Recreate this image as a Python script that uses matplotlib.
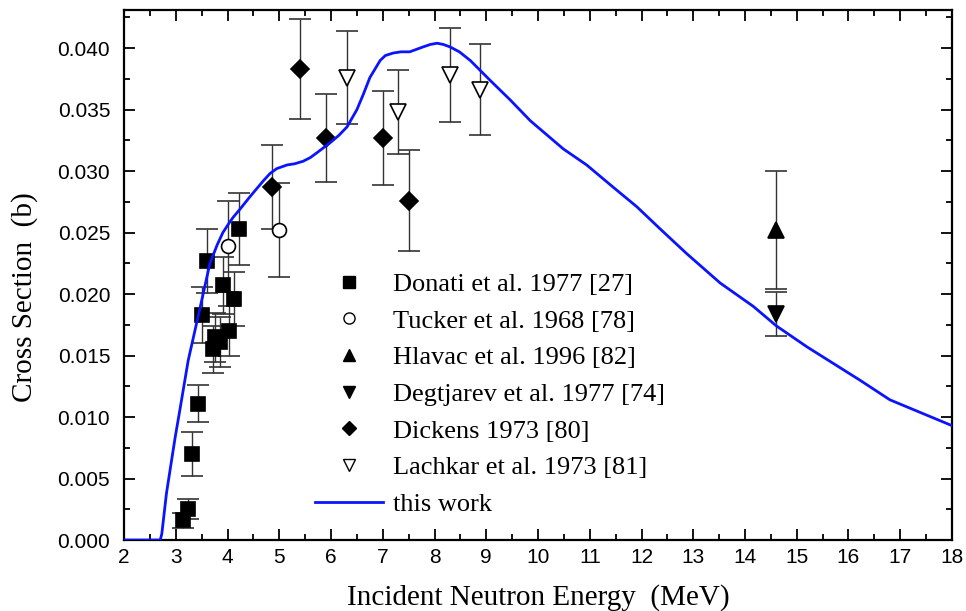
import matplotlib
matplotlib.use("Agg")
import matplotlib.pyplot as plt
from matplotlib.lines import Line2D
from matplotlib.ticker import MultipleLocator, FormatStrFormatter

# measured data
donati_x = [3.13, 3.24, 3.32, 3.42, 3.51, 3.61, 3.72, 3.76, 3.85, 3.92, 4.02, 4.13, 4.23]
donati_y = [0.0016, 0.0025, 0.0070, 0.0111, 0.0183, 0.0227, 0.0155, 0.0165, 0.0161, 0.0207, 0.0170, 0.0196, 0.0253]
donati_err = [0.0006, 0.0008, 0.0018, 0.0015, 0.0023, 0.0026, 0.0019, 0.0020, 0.0020, 0.0023, 0.0020, 0.0022, 0.0029]

tucker_x = [4.0, 5.0]
tucker_y = [0.0239, 0.0252]
tucker_err = [0.0037, 0.0038]

hlavac_x = [14.6]
hlavac_y = [0.0252]
hlavac_err = [0.0048]

degtjarev_x = [14.6]
degtjarev_y = [0.0184]
degtjarev_err = [0.0018]

dickens_x = [4.85, 5.40, 5.90, 7.00, 7.51]
dickens_y = [0.0287, 0.0383, 0.0327, 0.0327, 0.0276]
dickens_err = [0.0034, 0.0041, 0.0036, 0.0038, 0.0041]

lachkar_x = [6.30, 7.30, 8.30, 8.87]
lachkar_y = [0.0376, 0.0348, 0.0378, 0.0366]
lachkar_err = [0.0038, 0.0034, 0.0038, 0.0037]

# calculation ("this work")
calc_x = [2.0, 2.70, 2.73, 2.76, 2.82, 2.89, 2.99, 3.08, 3.24, 3.47, 3.66, 3.80, 3.91,
          4.05, 4.12, 4.24, 4.43, 4.69, 4.82, 4.95, 5.15, 5.30, 5.46, 5.60, 5.73,
          5.98, 6.15, 6.31, 6.50, 6.62, 6.75, 6.95, 7.05, 7.20, 7.35, 7.52, 7.65,
          7.78, 7.92, 8.05, 8.17, 8.30, 8.48, 8.69, 9.07, 9.46, 9.85, 10.49, 10.94,
          11.45, 11.91, 12.36, 12.87, 13.52, 14.16, 14.61, 15.20, 16.22, 16.80, 18.0]
calc_y = [0.0, 0.0, 0.0005, 0.0016, 0.0038, 0.0057, 0.0084, 0.0106, 0.0146, 0.0189,
          0.0225, 0.0240, 0.0250, 0.0259, 0.0263, 0.0269, 0.0279, 0.0292, 0.0298,
          0.0302, 0.0305, 0.0306, 0.0308, 0.0311, 0.0315, 0.0323, 0.0329, 0.0336,
          0.0350, 0.0362, 0.0376, 0.0390, 0.0394, 0.0396, 0.0397, 0.0397, 0.0399,
          0.0401, 0.0403, 0.0404, 0.0403, 0.0401, 0.0397, 0.0390, 0.0374, 0.0358,
          0.0341, 0.0318, 0.0305, 0.0287, 0.0271, 0.0253, 0.0233, 0.0209, 0.0190,
          0.0174, 0.0157, 0.0130, 0.0114, 0.0093]

labels = ["Donati et al. 1977 [27]", "Tucker et al. 1968 [78]", "Hlavac et al. 1996 [82]",
          "Degtjarev et al. 1977 [74]", "Dickens 1973 [80]", "Lachkar et al. 1973 [81]",
          "this work"]

serif = ["Liberation Serif", "DejaVu Serif"]
sans = ["Liberation Sans Narrow", "Liberation Sans", "DejaVu Sans"]
blue = "#0a14ff"

fig = plt.figure(figsize=(9.66, 6.11), dpi=100)
ax = fig.add_axes([0.1284, 0.1162, 0.8571, 0.8674])

eb = dict(ls="none", ecolor="#333333", elinewidth=1.0, capsize=8, capthick=1.0,
          mec="black", mew=1.2)

ax.errorbar(donati_x, donati_y, yerr=donati_err, marker="s", ms=10, mfc="black", **eb)
ax.errorbar(tucker_x, tucker_y, yerr=tucker_err, marker="o", ms=10, mfc="white", **eb)
ax.errorbar(hlavac_x, hlavac_y, yerr=hlavac_err, marker="^", ms=11, mfc="black", **eb)
ax.errorbar(degtjarev_x, degtjarev_y, yerr=degtjarev_err, marker="v", ms=11, mfc="black", **eb)
ax.errorbar(dickens_x, dickens_y, yerr=dickens_err, marker="D", ms=9, mfc="black", **eb)
ax.errorbar(lachkar_x, lachkar_y, yerr=lachkar_err, marker="v", ms=11, mfc="white", **eb)
ax.plot(calc_x, calc_y, color=blue, lw=2.0, zorder=5)

ax.set_xlim(2, 18)
ax.set_ylim(0, 0.0431)
ax.xaxis.set_major_locator(MultipleLocator(1))
ax.xaxis.set_minor_locator(MultipleLocator(0.5))
ax.yaxis.set_major_locator(MultipleLocator(0.005))
ax.yaxis.set_minor_locator(MultipleLocator(0.0025))
ax.yaxis.set_major_formatter(FormatStrFormatter("%.3f"))
ax.tick_params(which="both", direction="in", top=True, right=True, width=1.3)
ax.tick_params(which="major", length=8, labelsize=15)
ax.tick_params(axis="x", which="major", pad=6)
ax.tick_params(axis="y", which="major", pad=10)
ax.tick_params(which="minor", length=4)
for lab in ax.get_xticklabels() + ax.get_yticklabels():
    lab.set_family(sans)
for sp in ax.spines.values():
    sp.set_linewidth(1.6)

ax.set_xlabel("Incident Neutron Energy  (MeV)", family=serif, fontsize=21, labelpad=12)
ax.set_ylabel("Cross Section  (b)", family=serif, fontsize=21)
ax.yaxis.set_label_coords(-0.104, 0.4585)

# legend handles without error bars, as in the original
mk = dict(ls="none", mec="black", mew=1.0)
handles = [
    Line2D([], [], marker="s", ms=8, mfc="black", **mk),
    Line2D([], [], marker="o", ms=8, mfc="white", **mk),
    Line2D([], [], marker="^", ms=9, mfc="black", **mk),
    Line2D([], [], marker="v", ms=9, mfc="black", **mk),
    Line2D([], [], marker="D", ms=7.5, mfc="black", **mk),
    Line2D([], [], marker="v", ms=9, mfc="white", **mk),
    Line2D([], [], color=blue, lw=2.0),
]
ax.legend(handles, labels, loc="upper left", bbox_to_anchor=(0.2307, 0.505),
          frameon=False, prop={"family": serif, "size": 19}, handlelength=2.58,
          handletextpad=0.38, labelspacing=0.50, borderpad=0, borderaxespad=0)

fig.savefig("out.png", dpi=100)
